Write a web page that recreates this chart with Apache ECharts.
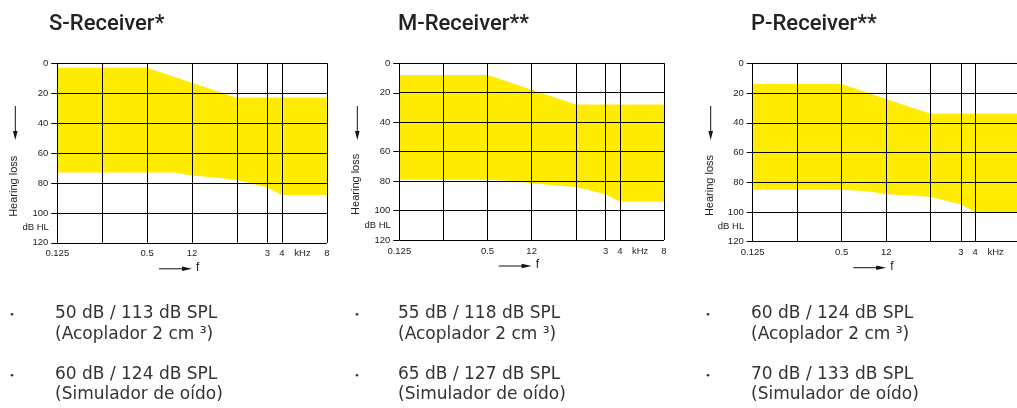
<!DOCTYPE html>
<html><head><meta charset="utf-8">
<script src="https://cdn.jsdelivr.net/npm/echarts@6/dist/echarts.min.js"></script>
<style>html,body{margin:0;padding:0;background:#fff}#c{width:1017px;height:408px}</style>
</head><body><div id="c"></div>
<script>
// ---------- data ----------
const titles = ['S-Receiver*', 'M-Receiver**', 'P-Receiver**'];
const xTicks = [0.125, 0.25, 0.5, 1, 2, 4, 8];
const xTickLabels = ['0.125', '', '0.5', '12', '', '4', '8'];
const yTicks = [0, 20, 40, 60, 80, 100, 120];
const extraLineFreq = 3.2;      // where the "3" line sits on the log scale
const extraLineLabel = '3';
const unitLabelFreq = 5.5;
const unitLabel = 'kHz';

const sUpperFreq = [0.125, 0.5, 1, 2, 8];
const sUpperLoss = [3, 3, 13, 23, 23];
const sLowerFreq = [0.125, 0.5, 0.75, 1, 1.5, 2, 3.2, 4, 8];
const sLowerLoss = [73, 73, 73, 75, 76.5, 78, 83, 88, 88];

const mUpperFreq = [0.125, 0.5, 1, 2, 8];
const mUpperLoss = [8, 8, 18, 28, 28];
const mLowerFreq = [0.125, 0.5, 0.75, 1, 1.5, 2, 3.2, 4, 8];
const mLowerLoss = [79, 79, 80, 81.5, 83, 84, 89, 94, 94];

const pUpperFreq = [0.125, 0.5, 1, 2, 8];
const pUpperLoss = [14, 14, 24, 34, 34];
const pLowerFreq = [0.125, 0.5, 0.75, 1, 1.5, 2, 3.2, 4, 8];
const pLowerLoss = [85, 85, 86, 88, 89, 90, 95, 100, 100];

const sSpecs = ['50 dB / 113 dB SPL', '(Acoplador 2 cm ³)', '60 dB / 124 dB SPL', '(Simulador de oído)'];
const mSpecs = ['55 dB / 118 dB SPL', '(Acoplador 2 cm ³)', '65 dB / 127 dB SPL', '(Simulador de oído)'];
const pSpecs = ['60 dB / 124 dB SPL', '(Acoplador 2 cm ³)', '70 dB / 133 dB SPL', '(Simulador de oído)'];

// ---------- layout ----------
const panels = [
  {left: 57.3, top: 63.3, width: 269.5, height: 179.5, textX: 55, bulletX: 12, titleX: 49,
   up: [sUpperFreq, sUpperLoss], lo: [sLowerFreq, sLowerLoss], specs: sSpecs},
  {left: 399.3, top: 63.3, width: 264.7, height: 176.7, textX: 398, bulletX: 357, titleX: 398,
   up: [mUpperFreq, mUpperLoss], lo: [mLowerFreq, mLowerLoss], specs: mSpecs},
  {left: 752.7, top: 63.3, width: 267, height: 178.4, textX: 751, bulletX: 708, titleX: 751,
   up: [pUpperFreq, pUpperLoss], lo: [pLowerFreq, pLowerLoss], specs: pSpecs}
];
const INK = '#000';
const TXT = '#222';
const AXFONT = 'Liberation Sans, Arial, sans-serif';
const YELLOW = '#ffec00';

function labelFor(v) {
  const e = Math.round(Math.log2(v));
  for (let i = 0; i < xTicks.length; i++) {
    if (Math.round(Math.log2(xTicks[i])) === e) return xTickLabels[i];
  }
  return '';
}

function bandRender(upF, upL, loF, loL) {
  return function (params, api) {
    const pts = [];
    for (let i = 0; i < upF.length; i++) pts.push(api.coord([upF[i], upL[i]]));
    for (let i = loF.length - 1; i >= 0; i--) pts.push(api.coord([loF[i], loL[i]]));
    return {type: 'polygon', shape: {points: pts}, style: {fill: YELLOW}};
  };
}

const grids = [], xAxes = [], yAxes = [], series = [], graphics = [];
panels.forEach((p, i) => {
  grids.push({left: p.left, top: p.top, width: p.width, height: p.height,
              containLabel: false, outerBoundsMode: 'none'});
  xAxes.push({
    gridIndex: i, type: 'log', logBase: 2, min: xTicks[0], max: xTicks[xTicks.length - 1],
    splitNumber: xTicks.length - 1, z: 5,
    axisLine: {show: true, lineStyle: {color: INK, width: 1}},
    axisTick: {show: false},
    splitLine: {show: true, lineStyle: {color: INK, width: 1}},
    axisLabel: {show: true, formatter: labelFor, color: TXT, fontSize: 9.5, fontFamily: AXFONT, margin: 6,
                showMinLabel: true, showMaxLabel: true, hideOverlap: false}
  });
  yAxes.push({
    gridIndex: i, type: 'value', inverse: true, min: yTicks[0], max: yTicks[yTicks.length - 1],
    interval: yTicks[1] - yTicks[0], z: 5,
    axisLine: {show: true, lineStyle: {color: INK, width: 1}},
    axisTick: {show: true, length: 6, lineStyle: {color: INK, width: 1}},
    splitLine: {show: true, lineStyle: {color: INK, width: 1}},
    axisLabel: {show: true, color: TXT, fontSize: 9.5, fontFamily: AXFONT, margin: 9}
  });
  const y0 = yTicks[yTicks.length - 1], y1 = yTicks[0];
  series.push({
    type: 'custom', xAxisIndex: i, yAxisIndex: i, z: 2,
    renderItem: bandRender(p.up[0], p.up[1], p.lo[0], p.lo[1]),
    encode: {x: 0, y: 1},
    data: [[p.up[0][0], p.up[1][0]]],
    silent: true,
    markLine: {
      symbol: 'none', silent: true, animation: false,
      lineStyle: {color: INK, width: 1, type: 'solid'},
      label: {show: true, position: 'start', color: TXT, fontSize: 9.5, fontFamily: AXFONT, distance: 6},
      data: [
        [{coord: [extraLineFreq, y0], label: {formatter: extraLineLabel}}, {coord: [extraLineFreq, y1]}],
        [{coord: [unitLabelFreq, y0], label: {formatter: unitLabel},
          lineStyle: {color: 'rgba(0,0,0,0)', width: 0}}, {coord: [unitLabelFreq, y1]}]
      ]
    }
  });

  // title
  graphics.push({type: 'text', x: p.titleX, y: 24, style: {
    text: titles[i], fill: TXT, font: '500 22px Roboto, sans-serif', textAlign: 'left', textVerticalAlign: 'middle'}});
  // Hearing loss label + arrow
  const hx = p.left - 43;
  graphics.push({type: 'text', x: hx, y: p.top + p.height * 0.685, rotation: Math.PI / 2, style: {
    text: 'Hearing loss', fill: TXT, font: '11px ' + AXFONT, textAlign: 'center', textVerticalAlign: 'middle'}});
  graphics.push({type: 'line', shape: {x1: hx + 1, y1: 106, x2: hx + 1, y2: 133}, style: {stroke: '#111', lineWidth: 1}});
  graphics.push({type: 'polygon', shape: {points: [[hx + 1, 140], [hx - 1.3, 131], [hx + 3.3, 131]]}, style: {fill: '#111'}});
  // dB HL
  graphics.push({type: 'text', x: p.left - 8.5, y: p.top + p.height * 110 / 120, style: {
    text: 'dB HL', fill: TXT, font: '9.5px ' + AXFONT, textAlign: 'right', textVerticalAlign: 'middle'}});
  // f arrow
  const oneK = p.left + p.width * 3 / 6;
  const fy = p.top + p.height + 26;
  graphics.push({type: 'line', shape: {x1: oneK - 33, y1: fy, x2: oneK - 8, y2: fy}, style: {stroke: '#111', lineWidth: 1}});
  graphics.push({type: 'polygon', shape: {points: [[oneK, fy], [oneK - 10, fy - 2.2], [oneK - 10, fy + 2.2]]}, style: {fill: '#111'}});
  graphics.push({type: 'text', x: oneK + 4, y: fy - 1, style: {
    text: 'f', fill: TXT, font: '12px ' + AXFONT, textAlign: 'left', textVerticalAlign: 'middle'}});
  // bullets
  const lineYs = [313.3, 334.3, 374.3, 395];
  p.specs.forEach((t, k) => {
    graphics.push({type: 'text', x: p.textX, y: lineYs[k], style: {
      text: t, fill: '#333', font: '17px "DejaVu Sans", sans-serif', textAlign: 'left', textVerticalAlign: 'middle'}});
  });
  [0, 2].forEach(k => {
    graphics.push({type: 'circle', shape: {cx: p.bulletX, cy: lineYs[k] + 1, r: 1.3}, style: {fill: '#333'}});
  });
});

const chart = echarts.init(document.getElementById('c'), null, {renderer: 'canvas'});
chart.setOption({
  animation: false,
  backgroundColor: '#fff',
  grid: grids, xAxis: xAxes, yAxis: yAxes, series: series,
  graphic: {elements: graphics}
});
</script>
</body></html>
